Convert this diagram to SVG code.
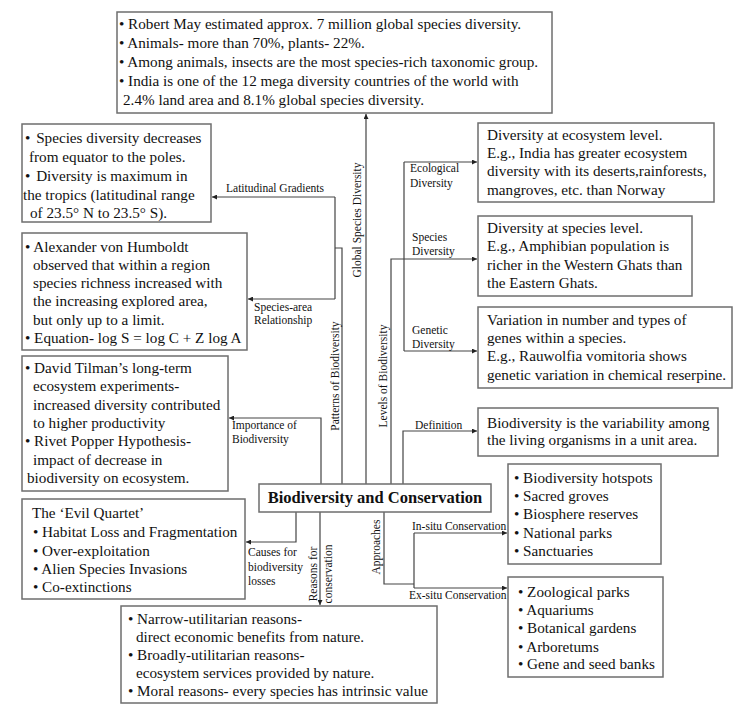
<svg xmlns="http://www.w3.org/2000/svg" width="753" height="724" viewBox="0 0 753 724" font-family="'Liberation Serif', 'Times New Roman', Times, 'DejaVu Serif', serif">
<defs>
<marker id="arr" viewBox="0 0 10 10" refX="10" refY="5" markerWidth="6" markerHeight="5" markerUnits="userSpaceOnUse" orient="auto">
<path d="M0,0 L10,5 L0,10 z" fill="#222"/>
</marker>
<style>
text{font-family:'Liberation Serif','Times New Roman',Times,'DejaVu Serif',serif}
.box{fill:#fff;stroke:#6e6e6e;stroke-width:1.5}
.t{font-size:15.2px;fill:#111}
.s{font-size:11.5px;fill:#111}
.title{font-size:16.5px;font-weight:bold;fill:#111}
.ln{fill:none;stroke:#444;stroke-width:1.2}
.ar{fill:none;stroke:#444;stroke-width:1.2;marker-end:url(#arr)}
</style>
</defs>
<rect width="753" height="724" fill="#fff"/>

<g id="connectors">
<path class="ar" d="M366,484 V114"/>
<path class="ln" d="M342,484 V248 H335"/>
<path class="ar" d="M335,197 H212"/>
<path class="ln" d="M335,197 V299"/>
<path class="ar" d="M335,299 H248"/>
<path class="ar" d="M321,484 V418 H229"/>
<path class="ar" d="M391,484 V259 H477"/>
<path class="ln" d="M404,162 V351"/>
<path class="ar" d="M404,162 H477"/>
<path class="ar" d="M404,351 H477"/>
<path class="ar" d="M403,484 V431 H477"/>
<path class="ar" d="M296,512 V542 H246"/>
<path class="ar" d="M320,512 V605"/>
<path class="ln" d="M384,512 V584 H414"/>
<path class="ln" d="M414,533 V588"/>
<path class="ar" d="M414,533 H507"/>
<path class="ar" d="M414,588 H507"/>

<text class="s" transform="translate(361,220) rotate(-90)" text-anchor="middle">Global Species Diversity</text>
<text class="s" transform="translate(339,376) rotate(-90)" text-anchor="middle">Patterns of Biodiversity</text>
<text class="s" transform="translate(387,376) rotate(-90)" text-anchor="middle">Levels of Biodiversity</text>
<text class="s" transform="translate(380,547) rotate(-90)" text-anchor="middle">Approaches</text>
<text class="s" transform="translate(317,574) rotate(-90)" text-anchor="middle">Reasons for</text>
<text class="s" transform="translate(332,574) rotate(-90)" text-anchor="middle">conservation</text>

<text class="s" x="226" y="192">Latitudinal Gradients</text>
<text class="s" x="254" y="311">Species-area</text>
<text class="s" x="254" y="324">Relationship</text>
<text class="s" x="232" y="429">Importance of</text>
<text class="s" x="232" y="443">Biodiversity</text>
<text class="s" x="410" y="172">Ecological</text>
<text class="s" x="410" y="187">Diversity</text>
<text class="s" x="412" y="241">Species</text>
<text class="s" x="412" y="255">Diversity</text>
<text class="s" x="412" y="334">Genetic</text>
<text class="s" x="412" y="348">Diversity</text>
<text class="s" x="415" y="429">Definition</text>
<text class="s" x="412" y="530">In-situ Conservation</text>
<text class="s" x="409" y="599">Ex-situ Conservation</text>
<text class="s" x="248" y="556">Causes for</text>
<text class="s" x="248" y="571">biodiversity</text>
<text class="s" x="248" y="585">losses</text>
</g>

<g id="node-center">
<rect class="box" x="259" y="484" width="232" height="28"/>
<text class="title" x="375" y="503" text-anchor="middle">Biodiversity and Conservation</text>
</g>

<g id="node-global">
<rect class="box" x="117" y="12" width="435" height="101"/>
<text class="t" x="119" y="29">• Robert May estimated approx. 7 million global species diversity.</text>
<text class="t" x="119" y="48">• Animals- more than 70%, plants- 22%.</text>
<text class="t" x="119" y="67">• Among animals, insects are the most species-rich taxonomic group.</text>
<text class="t" x="119" y="86">• India is one of the 12 mega diversity countries of the world with</text>
<text class="t" x="123" y="105">2.4% land area and 8.1% global species diversity.</text>
</g>

<g id="node-latitudinal">
<rect class="box" x="22" y="124" width="189" height="98"/>
<text class="t" x="25" y="143">• <tspan dx="2">Species diversity decreases</tspan></text>
<text class="t" x="29" y="162">from equator to the poles.</text>
<text class="t" x="25" y="181">• <tspan dx="2">Diversity is maximum in</tspan></text>
<text class="t" x="23" y="200">the tropics (latitudinal range</text>
<text class="t" x="30" y="218">of 23.5° N to 23.5° S).</text>
</g>

<g id="node-species-area">
<rect class="box" x="22" y="233" width="225" height="117"/>
<text class="t" x="25" y="252">• Alexander von Humboldt</text>
<text class="t" x="33" y="270">observed that within a region</text>
<text class="t" x="33" y="288">species richness increased with</text>
<text class="t" x="33" y="306">the increasing explored area,</text>
<text class="t" x="33" y="325">but only up to a limit.</text>
<text class="t" x="25" y="343">• Equation- log S = log C + Z log A</text>
</g>

<g id="node-importance">
<rect class="box" x="22" y="356" width="206" height="135"/>
<text class="t" x="25" y="373">• David Tilman’s long-term</text>
<text class="t" x="33" y="391">ecosystem experiments-</text>
<text class="t" x="33" y="410">increased diversity contributed</text>
<text class="t" x="33" y="428">to higher productivity</text>
<text class="t" x="25" y="446">• Rivet Popper Hypothesis-</text>
<text class="t" x="33" y="465">impact of decrease in</text>
<text class="t" x="27" y="483">biodiversity on ecosystem.</text>
</g>

<g id="node-causes">
<rect class="box" x="22" y="499" width="223" height="100"/>
<text class="t" x="32" y="518">The ‘Evil Quartet’</text>
<text class="t" x="33" y="537">• Habitat Loss and Fragmentation</text>
<text class="t" x="33" y="556">• Over-exploitation</text>
<text class="t" x="33" y="574">• Alien Species Invasions</text>
<text class="t" x="33" y="592">• Co-extinctions</text>
</g>

<g id="node-reasons">
<rect class="box" x="121" y="606" width="316" height="97"/>
<text class="t" x="128" y="624">• Narrow-utilitarian reasons-</text>
<text class="t" x="136" y="642">direct economic benefits from nature.</text>
<text class="t" x="128" y="660">• Broadly-utilitarian reasons-</text>
<text class="t" x="136" y="678">ecosystem services provided by nature.</text>
<text class="t" x="128" y="696">• Moral reasons- every species has intrinsic value</text>
</g>

<g id="node-ecological">
<rect class="box" x="478" y="123" width="236" height="79"/>
<text class="t" x="487" y="140">Diversity at ecosystem level.</text>
<text class="t" x="487" y="158">E.g., India has greater ecosystem</text>
<text class="t" x="487" y="176">diversity with its deserts,rainforests,</text>
<text class="t" x="487" y="195">mangroves, etc. than Norway</text>
</g>

<g id="node-species">
<rect class="box" x="478" y="216" width="214" height="80"/>
<text class="t" x="487" y="233">Diversity at species level.</text>
<text class="t" x="487" y="251">E.g., Amphibian population is</text>
<text class="t" x="487" y="270">richer in the Western Ghats than</text>
<text class="t" x="487" y="288">the Eastern Ghats.</text>
</g>

<g id="node-genetic">
<rect class="box" x="478" y="307" width="254" height="81"/>
<text class="t" x="487" y="325">Variation in number and types of</text>
<text class="t" x="487" y="343">genes within a species.</text>
<text class="t" x="487" y="361">E.g., Rauwolfia vomitoria shows</text>
<text class="t" x="487" y="380">genetic variation in chemical reserpine.</text>
</g>

<g id="node-definition">
<rect class="box" x="478" y="408" width="240" height="48"/>
<text class="t" x="487" y="428">Biodiversity is the variability among</text>
<text class="t" x="487" y="445">the living organisms in a unit area.</text>
</g>

<g id="node-insitu">
<rect class="box" x="508" y="464" width="153" height="100"/>
<text class="t" x="514" y="483">• Biodiversity hotspots</text>
<text class="t" x="514" y="501">• Sacred groves</text>
<text class="t" x="514" y="519">• Biosphere reserves</text>
<text class="t" x="514" y="538">• National parks</text>
<text class="t" x="514" y="556">• Sanctuaries</text>
</g>

<g id="node-exsitu">
<rect class="box" x="508" y="577" width="155" height="100"/>
<text class="t" x="518" y="597">• Zoological parks</text>
<text class="t" x="518" y="615">• Aquariums</text>
<text class="t" x="518" y="633">• Botanical gardens</text>
<text class="t" x="518" y="652">• Arboretums</text>
<text class="t" x="518" y="669">• Gene and seed banks</text>
</g>
</svg>
